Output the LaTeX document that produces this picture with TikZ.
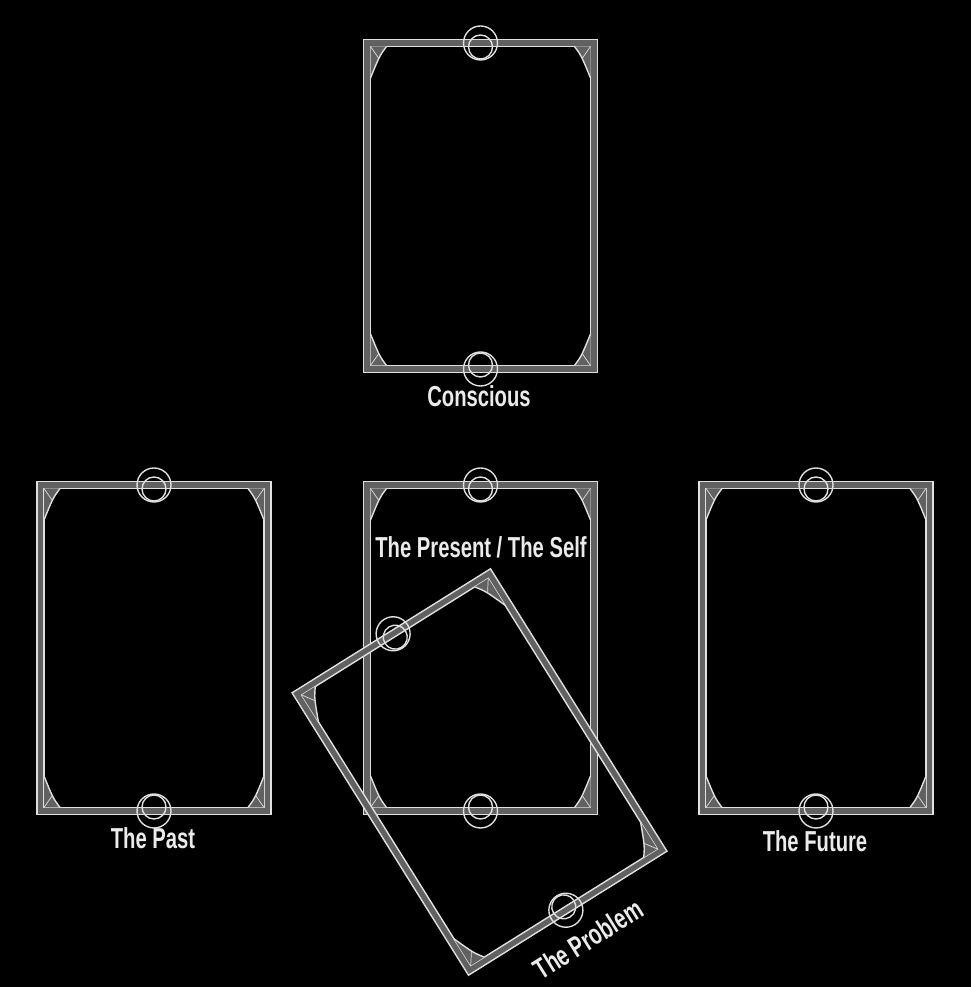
\documentclass[tikz,border=0pt]{standalone}
\usepackage{fontspec}
\newfontfamily\labelfont[FakeStretch=0.7]{Liberation Sans Bold}
\tikzset{
    cardline/.style={draw=white!88!black,line width=1.4pt},
    cardband/.style={fill=white!38!black},
    cardlabel/.style={text=white!92!black,inner sep=0pt,font=\labelfont\fontsize{29}{30}\selectfont},
    pics/spreadcard/.style={code={
        \fill[cardband,even odd rule] (-117,-166.5) rectangle (117,166.5) (-110,-159.5) rectangle (110,159.5);
        \draw[cardline] (-117,-166.5) rectangle (117,166.5);
        \draw[cardline] (-110,-159.5) rectangle (110,159.5);
        \foreach \sx/\sy in {1/1,-1/1,1/-1,-1/-1}{
            \begin{scope}[xscale=\sx,yscale=\sy]
                \fill[cardband] (94,159.5) .. controls (101,150) .. (110,128) -- (110,159.5) -- cycle;
                \draw[cardline] (94,159.5) .. controls (101,150) .. (110,128);
                \draw[cardline,line width=0.7pt] (110,159.5) -- (102,148);
            \end{scope}
        }
        \foreach \sy in {1,-1}{
            \draw[cardline] (0,{163*\sy}) circle (17);
            \draw[cardline] (0,{159*\sy}) circle (12);
        }
    }}
}
\begin{document}
\begin{tikzpicture}[x=1bp,y=1bp]
    \fill[black] (0,0) rectangle (971,987);
    \useasboundingbox (0,0) rectangle (971,987);
    \pic (cardtop) at (480.5,781) {spreadcard};
    \pic (cardpast) at (154,339) {spreadcard};
    \pic (cardself) at (480.5,339) {spreadcard};
    \pic (cardfuture) at (816,339) {spreadcard};
    \pic[rotate=32] (cardproblem) at (479.5,215) {spreadcard};
    \node[cardlabel] (conscious) at (479,591) {Conscious};
    \node[cardlabel] (past) at (153,149) {The Past};
    \node[cardlabel] (present) at (481,440) {The Present / The Self};
    \node[cardlabel] (future) at (815,146) {The Future};
    \node[cardlabel,rotate=32] (problem) at (588,48) {The Problem};
\end{tikzpicture}
\end{document}
